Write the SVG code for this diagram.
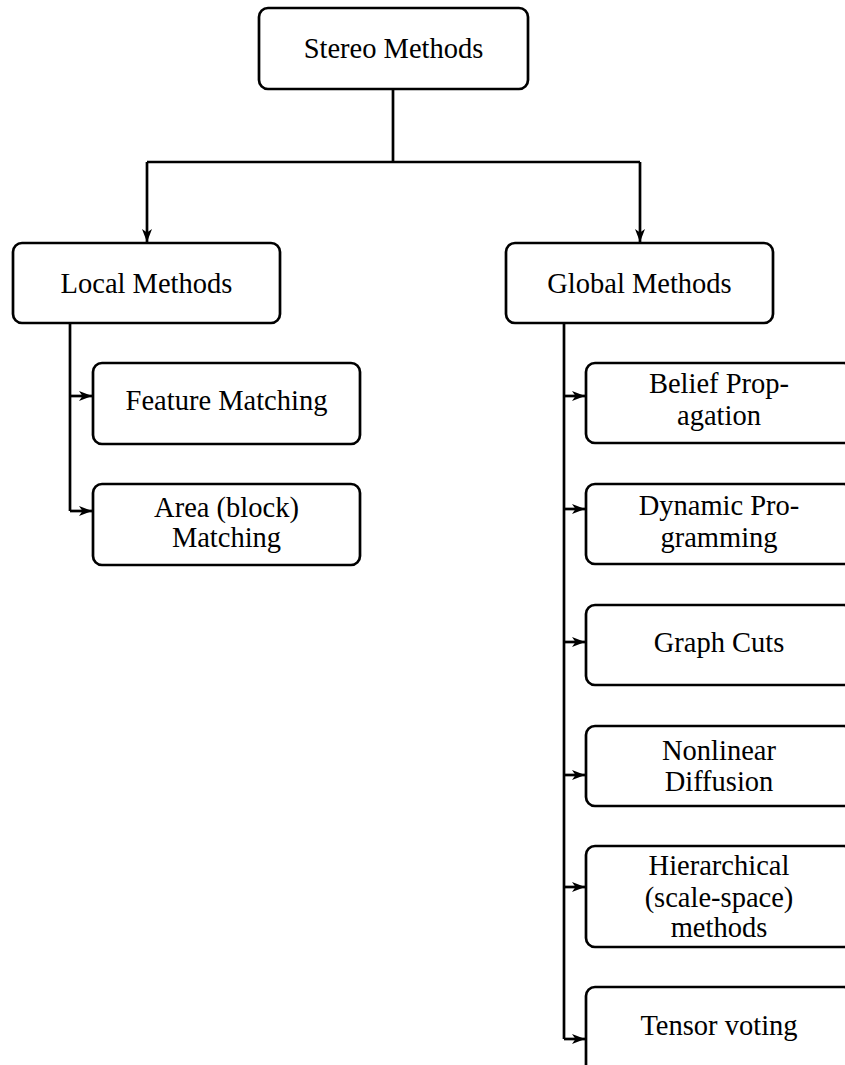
<svg xmlns="http://www.w3.org/2000/svg" width="845" height="1065" viewBox="0 0 845 1065">
<style>
.box{fill:#fff;stroke:#000;stroke-width:2.7}
.t{font-family:"Liberation Serif","Times New Roman",serif;font-size:28.5px;fill:#000;text-anchor:middle}
.c{fill:none;stroke:#000;stroke-width:2.7}
</style>
<defs>
<marker id="ah" markerUnits="userSpaceOnUse" markerWidth="16" markerHeight="12" refX="13" refY="5" orient="auto">
<path d="M0,0 L13,5 L0,10 L3.5,5 Z" fill="#000"/>
</marker>
</defs>
<rect width="845" height="1065" fill="#fff"/>
<g id="connectors">
<path class="c" d="M393,89 V162 M147,162 H640"/>
<path class="c" d="M147,162 V242" marker-end="url(#ah)"/>
<path class="c" d="M640,162 V242" marker-end="url(#ah)"/>
<path class="c" d="M70,323 V511"/>
<path class="c" d="M70,396 H92" marker-end="url(#ah)"/>
<path class="c" d="M70,511 H92" marker-end="url(#ah)"/>
<path class="c" d="M564,323 V1039"/>
<path class="c" d="M564,396 H585" marker-end="url(#ah)"/>
<path class="c" d="M564,509 H585" marker-end="url(#ah)"/>
<path class="c" d="M564,642 H585" marker-end="url(#ah)"/>
<path class="c" d="M564,775 H585" marker-end="url(#ah)"/>
<path class="c" d="M564,887 H585" marker-end="url(#ah)"/>
<path class="c" d="M564,1039 H585" marker-end="url(#ah)"/>
</g>
<g id="stereo"><rect class="box" x="259" y="8" width="269" height="81" rx="9"/><text class="t" x="393.5" y="58">Stereo Methods</text></g>
<g id="local"><rect class="box" x="13" y="243" width="267" height="80" rx="9"/><text class="t" x="146.5" y="293">Local Methods</text></g>
<g id="global"><rect class="box" x="506" y="243" width="267" height="80" rx="9"/><text class="t" x="639.5" y="293">Global Methods</text></g>
<g id="feature"><rect class="box" x="93" y="363" width="267" height="81" rx="9"/><text class="t" x="226.5" y="410">Feature Matching</text></g>
<g id="area"><rect class="box" x="93" y="484" width="267" height="81" rx="9"/><text class="t" x="226.5" y="517">Area (block)<tspan x="226.5" y="547">Matching</tspan></text></g>
<g id="belief"><rect class="box" x="586" y="363" width="267" height="80" rx="9"/><text class="t" x="719" y="393">Belief Prop-<tspan x="719" y="425">agation</tspan></text></g>
<g id="dynamic"><rect class="box" x="586" y="484" width="267" height="80" rx="9"/><text class="t" x="719" y="515">Dynamic Pro-<tspan x="719" y="547">gramming</tspan></text></g>
<g id="graphcuts"><rect class="box" x="586" y="605" width="267" height="80" rx="9"/><text class="t" x="719" y="652">Graph Cuts</text></g>
<g id="nonlinear"><rect class="box" x="586" y="726" width="267" height="80" rx="9"/><text class="t" x="719" y="760">Nonlinear<tspan x="719" y="791">Diffusion</tspan></text></g>
<g id="hierarchical"><rect class="box" x="586" y="846" width="267" height="101" rx="9"/><text class="t" x="719" y="875">Hierarchical<tspan x="719" y="907">(scale-space)</tspan><tspan x="719" y="937">methods</tspan></text></g>
<g id="tensor"><rect class="box" x="586" y="987" width="267" height="90" rx="9"/><text class="t" x="719" y="1035">Tensor voting</text></g>
</svg>
